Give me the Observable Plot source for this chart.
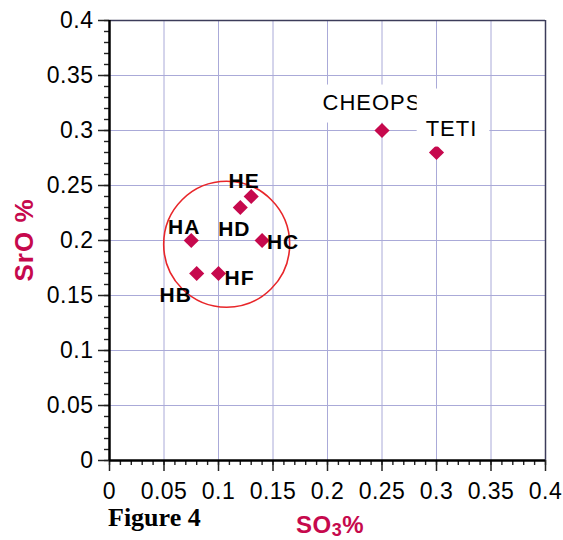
<!DOCTYPE html>
<html><head><meta charset="utf-8">
<script src="https://cdn.jsdelivr.net/npm/d3@7"></script>
<script src="https://cdn.jsdelivr.net/npm/@observablehq/plot@0.6"></script>
<style>
body{margin:0;background:#fff;}
#chart svg{display:block;}
</style></head><body><div id="chart"></div>
<script>
// ---- data ----
const names = ["HA", "HB", "HC", "HD", "HE", "HF", "CHEOPS", "TETI"];
const so3   = [0.075, 0.08, 0.14, 0.12, 0.13, 0.10, 0.25, 0.30];
const sro   = [0.20, 0.17, 0.20, 0.23, 0.24, 0.17, 0.30, 0.28];
const xTickValues = [0, 0.05, 0.1, 0.15, 0.2, 0.25, 0.3, 0.35, 0.4];
const xTickLabels = ["0", "0.05", "0.1", "0.15", "0.2", "0.25", "0.3", "0.35", "0.4"];
const yTickValues = [0, 0.05, 0.1, 0.15, 0.2, 0.25, 0.3, 0.35, 0.4];
const yTickLabels = ["0", "0.05", "0.1", "0.15", "0.2", "0.25", "0.3", "0.35", "0.4"];
const circleSO3 = [0.1075];
const circleSrO = [0.1966];

// ---- derived tables ----
const points = names.map((name, i) => ({name, so3: so3[i], sro: sro[i]}));
const circle = circleSO3.map((v, i) => ({so3: v, sro: circleSrO[i]}));
const minorTicks = d3.range(0, 41).map(i => i / 100);

// ---- styles / layout ----
const crimson = "#c6094d";
const red = "#e8262a";
const gridColor = "#aaaad8";
const frameColor = "#3c3c5a";
const tickColor = "#222";
const labelLayout = {
  HA: {dx: -7, dy: -13, bold: true},
  HB: {dx: -21, dy: 22, bold: true},
  HC: {dx: 21, dy: 2, bold: true},
  HD: {dx: -6, dy: 22, bold: true},
  HE: {dx: -7, dy: -15, bold: true},
  HF: {dx: 21, dy: 5, bold: true},
  CHEOPS: {dx: -10, dy: -28, bold: false, box: [5, 6, 8, 6]},
  TETI: {dx: 15, dy: -24, bold: false, box: [27, 12, 6, 9]}
};

const labelMarks = points.map(p => {
  const L = labelLayout[p.name];
  return Plot.text([p], {
    x: "so3", y: "sro", text: "name",
    dx: L.dx, dy: L.dy,
    fontSize: L.bold ? 21 : 22,
    fontWeight: L.bold ? "bold" : "normal",
    fill: "#000"
  });
});

const chart = Plot.plot({
  width: 563,
  height: 540,
  marginLeft: 109,
  marginRight: 18,
  marginTop: 20,
  marginBottom: 80,
  style: {fontFamily: "'Liberation Sans', Arial, Helvetica, sans-serif", fontSize: "22px", background: "#fff", letterSpacing: "1px", color: "#000"},
  x: {domain: [0, 0.4], label: null},
  y: {domain: [0, 0.4], label: null},
  marks: [
    Plot.gridX(xTickValues, {stroke: gridColor, strokeOpacity: 1, strokeWidth: 1}),
    Plot.gridY(yTickValues, {stroke: gridColor, strokeOpacity: 1, strokeWidth: 1}),
    Plot.ruleY([0.4], {stroke: frameColor, strokeWidth: 1.5}),
    Plot.ruleX([0.4], {stroke: frameColor, strokeWidth: 1.5}),
    Plot.dot(circle, {x: "so3", y: "sro", r: 63, stroke: red, strokeWidth: 1.6, fill: "none"}),
    Plot.dot(points, {x: "so3", y: "sro", symbol: "diamond2", r: 6.8, fill: crimson, stroke: "none"}),
    Plot.axisX({ticks: minorTicks, tickSize: 5, tickFormat: () => "", stroke: tickColor, strokeWidth: 1.4, label: null}),
    Plot.axisY({ticks: minorTicks, tickSize: 5, tickFormat: () => "", stroke: tickColor, strokeWidth: 1.4, label: null}),
    Plot.axisX({ticks: xTickValues, tickSize: 11, tickPadding: 11, fontSize: 23, tickFormat: d => xTickLabels[xTickValues.indexOf(d)], stroke: tickColor, strokeWidth: 1.5, fill: "#000", label: null}),
    Plot.axisY({ticks: yTickValues, tickSize: 11, tickPadding: 5, fontSize: 23, tickFormat: d => yTickLabels[yTickValues.indexOf(d)], stroke: tickColor, strokeWidth: 1.5, fill: "#000", label: null}),
    Plot.ruleX([0], {stroke: "#000", strokeWidth: 2.5}),
    Plot.ruleY([0], {stroke: "#000", strokeWidth: 2.5}),
    ...labelMarks
  ]
});

document.getElementById("chart").appendChild(chart);
const svg = d3.select(chart);
svg.selectAll('g[aria-label="x-axis tick label"] text, g[aria-label="y-axis tick label"] text').style("letter-spacing", "0.5px");

// white boxes behind the regular-weight labels
svg.selectAll("text").each(function() {
  const name = this.textContent;
  const L = labelLayout[name];
  if (!L || !L.box) return;
  const b = this.getBBox();
  const [pt, pr, pb, pl] = L.box;
  const rect = document.createElementNS("http://www.w3.org/2000/svg", "rect");
  rect.setAttribute("x", b.x - pl);
  rect.setAttribute("y", b.y - pt);
  rect.setAttribute("width", b.width + pl + pr);
  rect.setAttribute("height", b.height + pt + pb);
  rect.setAttribute("fill", "#fff");
  rect.setAttribute("stroke", "none");
  const tr = this.getAttribute("transform");
  if (tr) rect.setAttribute("transform", tr);
  this.parentNode.insertBefore(rect, this);
});

// axis titles and figure caption
svg.append("text")
  .attr("transform", "translate(33,240) rotate(-90)")
  .attr("text-anchor", "middle")
  .attr("fill", crimson)
  .attr("font-weight", "bold")
  .attr("font-size", 26)
  .style("letter-spacing", "1px")
  .text("SrO %");

const so3Title = svg.append("text")
  .attr("x", 296).attr("y", 533)
  .attr("text-anchor", "start")
  .attr("fill", crimson)
  .attr("font-weight", "bold")
  .attr("font-size", 24)
  .style("letter-spacing", "0.5px");
so3Title.append("tspan").text("SO");
so3Title.append("tspan").attr("font-size", 18).attr("dy", 3).text("3");
so3Title.append("tspan").attr("dy", -3).text("%");

svg.append("text")
  .attr("x", 108).attr("y", 526)
  .attr("text-anchor", "start")
  .attr("fill", "#000")
  .attr("font-weight", "bold")
  .attr("font-size", 26)
  .style("font-family", "'Liberation Serif', 'Times New Roman', serif")
  .style("letter-spacing", "0px")
  .text("Figure 4");
</script>
</body></html>
